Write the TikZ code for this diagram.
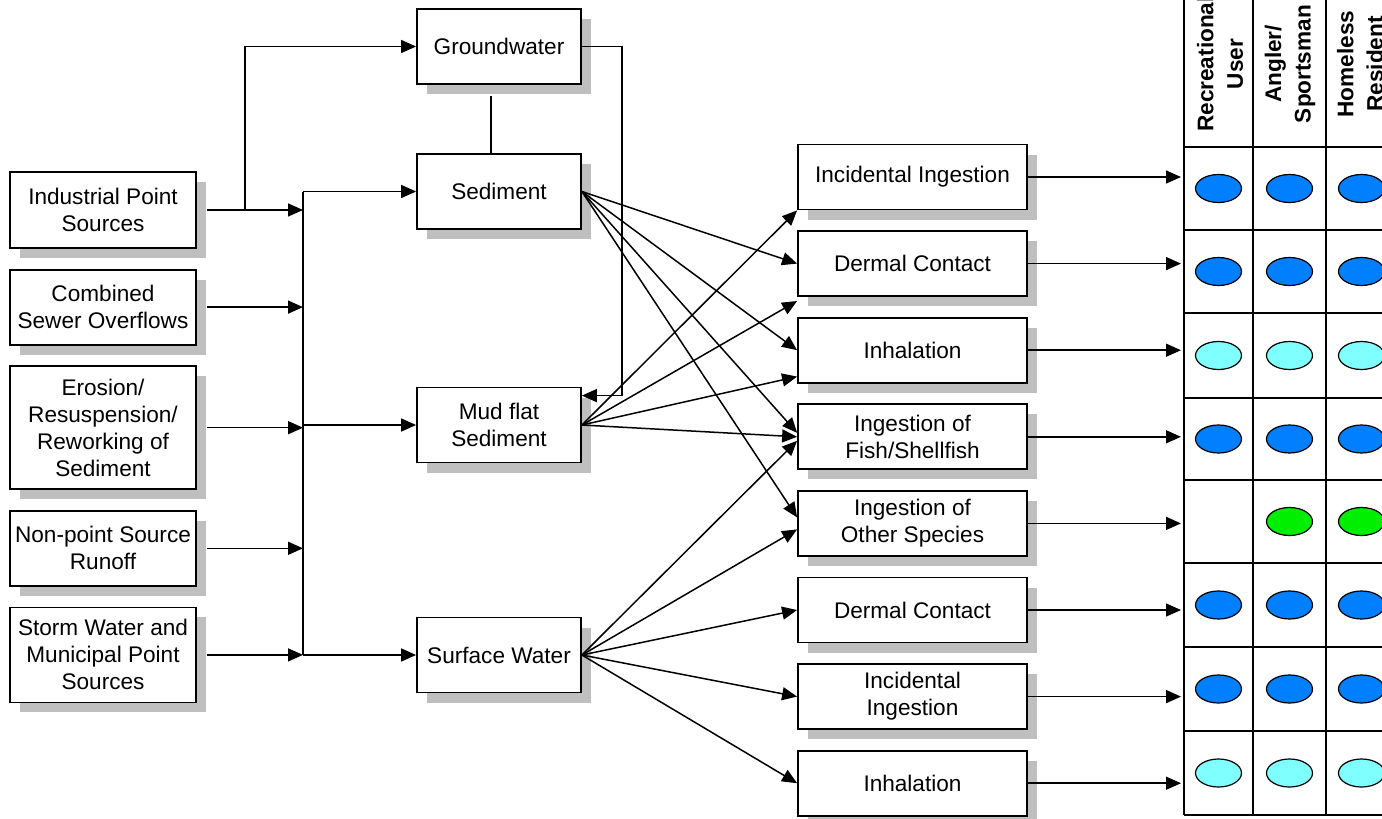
\documentclass[tikz,border=0pt]{standalone}
\usepackage{fontspec}
\setmainfont{Liberation Sans}
\usetikzlibrary{positioning,shadows,arrows.meta}

\definecolor{dotblue}{RGB}{0,128,255}
\definecolor{dotcyan}{RGB}{128,255,255}
\definecolor{dotgreen}{RGB}{0,238,0}
\newcommand{\boxfont}{\fontsize{11.3}{13.5}\selectfont}
\newcommand{\headfont}{\fontsize{11.3}{14.8}\selectfont\bfseries}

\begin{document}
\begin{tikzpicture}[
    x=0.5pt, y=-0.5pt,
    node distance=9.9pt,
    box/.style={draw, line width=0.9pt, fill=white, align=center, font=\boxfont, inner xsep=1pt, inner ysep=2pt,
        drop shadow={shadow xshift=5pt, shadow yshift=-5pt, fill=black!25, opacity=1}},
    src/.style={box, minimum width=93pt, minimum height=37.5pt},
    media/.style={box, minimum width=82pt, minimum height=37.5pt},
    route/.style={box, minimum width=114.5pt, minimum height=32.5pt},
    head/.style={rotate=90, align=center, font=\headfont},
    arr/.style={-{Triangle[length=7.5pt,width=6.5pt]}, line width=0.75pt},
    grid/.style={line width=0.8pt},
    dot/.style={draw, line width=0.6pt}
]
\path[use as bounding box] (0,0) rectangle (1382,819);
\clip (0,0) rectangle (1382,819);

% sources
\node[src, minimum height=38pt] (ind) at (103,210) {Industrial Point\\Sources};
\node[src, below=of ind] (cso) {Combined\\Sewer Overflows};
\node[src, below=of cso, minimum height=61.5pt] (eros) {Erosion/\\Resuspension/\\Reworking of\\Sediment};
\node[src, below=of eros] (npsr) {Non-point Source\\Runoff};
\node[src, below=of npsr, minimum height=47.5pt] (storm) {Storm Water and\\Municipal Point\\Sources};

% media
\node[media] (gw) at (499,46.5) {Groundwater};
\node[media] (sed) at (499,191.5) {Sediment};
\node[media] (mud) at (499,425) {Mud flat\\Sediment};
\node[media] (surf) at (499,655) {Surface Water};

% exposure routes
\node[route] (ing1) at (912.5,177) {Incidental Ingestion};
\node[route, below=of ing1] (derm1) {Dermal Contact};
\node[route, below=of derm1] (inh1) {Inhalation};
\node[route, below=of inh1] (fish) {Ingestion of\\Fish/Shellfish};
\node[route, below=of fish] (other) {Ingestion of\\Other Species};
\node[route, below=of other] (derm2) {Dermal Contact};
\node[route, below=of derm2] (ing2) {Incidental\\Ingestion};
\node[route, below=of ing2] (inh2) {Inhalation};

% receptors
\node[head] (rec) at (1220,64) {Recreational\\User};
\node[head] (angler) at (1290,64) {Angler/\\Sportsman};
\node[head] (homeless) at (1360,64) {Homeless\\Resident};

\coordinate (split) at (245,210);
\coordinate (bustop) at (303,191.5);
\coordinate (busbot) at (303,655);
\coordinate (tbl) at (1181,0);

% sources into the bus
\draw[arr] ([xshift=5pt]ind.east) -- (ind.east -| bustop);
\draw[arr] ([xshift=5pt]cso.east) -- (cso.east -| bustop);
\draw[arr] ([xshift=5pt]eros.east) -- (eros.east -| bustop);
\draw[arr] ([xshift=5pt]npsr.east) -- (npsr.east -| bustop);
\draw[arr] ([xshift=5pt]storm.east) -- (storm.east -| bustop);
\draw[arr] (split) |- (gw.west);
\draw[line width=0.75pt] (bustop) -- (busbot);
\draw[arr] (bustop) -- (sed.west);
\draw[arr] (mud.west -| bustop) -- (mud.west);
\draw[arr] (busbot) -- (surf.west);

% groundwater links
\draw[line width=0.75pt] ([xshift=-4pt,yshift=-5.5pt]gw.south) -- ([xshift=-4pt]sed.north);
\draw[arr] (gw.east) -- ++(20pt,0) |- ([yshift=-4.5pt]mud.north east);

% media to routes
\draw[arr] (sed.east) -- (derm1.west);
\draw[arr] (sed.east) -- (inh1.west);
\draw[arr] (sed.east) -- ([yshift=2pt]fish.west);
\draw[arr] (sed.east) -- ([yshift=3pt]other.west);
\draw[arr] (mud.east) -- (ing1.south west);
\draw[arr] (mud.east) -- ([yshift=-2pt]derm1.south west);
\draw[arr] (mud.east) -- ([yshift=3.5pt]inh1.south west);
\draw[arr] (mud.east) -- (fish.west);
\draw[arr] (surf.east) -- ([yshift=-2pt]fish.west);
\draw[arr] (surf.east) -- ([yshift=-3pt]other.west);
\draw[arr] (surf.east) -- (derm2.west);
\draw[arr] (surf.east) -- (ing2.west);
\draw[arr] (surf.east) -- (inh2.west);

% routes to receptor table
\foreach \r in {ing1,derm1,inh1,fish,other,derm2,ing2,inh2}
  \draw[arr] (\r.east) -- (\r.east -| tbl);

% table
\foreach \x in {1184,1253,1326,1397}
  \draw[grid] (\x,0) -- (\x,815);
\foreach \y in {147,230,313,398,480,563,647,731,815}
  \draw[grid] (1184,\y) -- (1397,\y);
\foreach \y/\c in {188.5/dotblue,271.5/dotblue,355.5/dotcyan,439/dotblue,605/dotblue,689/dotblue,773/dotcyan}
  \foreach \x in {1218.5,1289.5,1361.5}
    \draw[dot, fill=\c] (\x,\y) ellipse [x radius=11.5pt, y radius=7pt];
\foreach \x in {1289.5,1361.5}
  \draw[dot, fill=dotgreen] (\x,521.5) ellipse [x radius=11.5pt, y radius=7pt];
\end{tikzpicture}
\end{document}
